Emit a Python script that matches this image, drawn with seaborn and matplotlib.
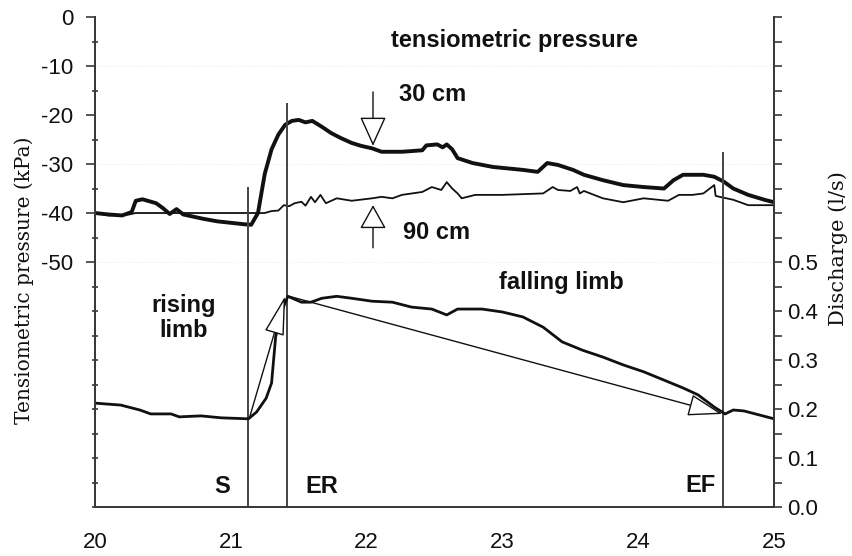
import numpy as np
import matplotlib
matplotlib.use("Agg")
import matplotlib.pyplot as plt
import seaborn as sns

# ---- data ----
t30 = [20.0, 20.1, 20.2, 20.27, 20.3, 20.35, 20.4, 20.45, 20.5, 20.55, 20.6, 20.65, 20.7, 20.8, 20.9,
       21.0, 21.1, 21.15, 21.2, 21.25, 21.3, 21.35, 21.4, 21.45, 21.5, 21.55, 21.6, 21.67, 21.74, 21.81,
       21.89, 21.96, 22.04, 22.11, 22.26, 22.41, 22.44, 22.52, 22.56, 22.59, 22.63, 22.67, 22.78, 22.93,
       23.15, 23.26, 23.33, 23.41, 23.52, 23.6, 23.74, 23.89, 24.04, 24.19, 24.26, 24.33, 24.48, 24.56,
       24.63, 24.7, 24.81, 24.93, 25.0]
p30 = [-40.0, -40.3, -40.5, -39.8, -37.5, -37.2, -37.6, -38.0, -39.0, -40.2, -39.2, -40.3, -40.6, -41.2,
       -41.7, -42.0, -42.3, -42.4, -40.0, -32.0, -27.0, -24.0, -22.0, -21.2, -21.0, -21.5, -21.2, -22.4,
       -23.7, -24.7, -25.7, -26.3, -26.8, -27.5, -27.5, -27.2, -26.2, -26.0, -26.6, -26.0, -27.0, -28.8,
       -29.8, -30.6, -31.2, -31.6, -29.8, -30.2, -31.2, -32.2, -33.3, -34.3, -34.7, -35.0, -33.3, -32.2,
       -32.2, -32.6, -33.6, -35.0, -36.3, -37.3, -37.8]

t90 = [20.0, 20.1, 20.25, 20.3, 21.25, 21.3, 21.35, 21.39, 21.43, 21.47, 21.52, 21.55, 21.59, 21.62, 21.66,
       21.7, 21.78, 21.89, 22.04, 22.11, 22.19, 22.26, 22.41, 22.48, 22.55, 22.59, 22.63, 22.67, 22.7, 22.8,
       23.0, 23.3, 23.37, 23.41, 23.5, 23.55, 23.57, 23.6, 23.74, 23.89, 24.04, 24.22, 24.3, 24.4, 24.48,
       24.56, 24.57, 24.6, 24.7, 24.81, 25.0]
p90 = [-40.0, -40.5, -40.3, -40.0, -40.0, -39.6, -39.5, -38.4, -38.6, -38.0, -37.7, -38.5, -36.7, -37.8,
       -36.3, -38.0, -37.0, -37.5, -37.0, -36.7, -37.0, -36.3, -35.7, -34.7, -35.3, -33.7, -35.0, -36.0,
       -37.0, -36.3, -36.3, -36.0, -34.7, -35.3, -35.5, -34.7, -36.0, -35.5, -37.0, -37.8, -37.0, -37.5,
       -36.3, -36.3, -36.0, -34.3, -36.5, -36.7, -37.3, -38.4, -38.4]

tq = [20.0, 20.19, 20.33, 20.41, 20.56, 20.62, 20.78, 20.93, 21.13, 21.19, 21.26, 21.3, 21.33, 21.37,
      21.42, 21.52, 21.59, 21.67, 21.78, 21.89, 22.04, 22.19, 22.33, 22.48, 22.59, 22.67, 22.85, 23.0,
      23.15, 23.3, 23.44, 23.59, 23.74, 23.89, 24.04, 24.19, 24.33, 24.44, 24.56, 24.64, 24.7, 24.78,
      24.89, 25.0]
q = [0.212, 0.208, 0.198, 0.19, 0.19, 0.184, 0.186, 0.182, 0.18, 0.194, 0.222, 0.253, 0.347, 0.396,
     0.43, 0.418, 0.418, 0.426, 0.43, 0.426, 0.42, 0.418, 0.408, 0.404, 0.392, 0.404, 0.404, 0.398,
     0.388, 0.367, 0.337, 0.32, 0.306, 0.29, 0.276, 0.259, 0.243, 0.229, 0.204, 0.19, 0.198, 0.196,
     0.188, 0.18]

event_t = [21.127, 21.414, 24.624]
event_top = [-34.7, -17.5, -27.5]
event_labels = ["S", "ER", "EF"]

x_ticks = [20, 21, 22, 23, 24, 25]
left_labels = [0, -10, -20, -30, -40, -50]
right_labels = [0.0, 0.1, 0.2, 0.3, 0.4, 0.5]

# ---- style ----
sns.set_theme(style="white")
plt.rcParams["font.family"] = ["Liberation Sans", "DejaVu Sans"]

fig = plt.figure(figsize=(8.53, 5.56), dpi=100)
ax = fig.add_axes([0.1114, 0.0881, 0.796, 0.8813])
ax2 = ax.twinx()

ink = "#111111"
axcol = "#3a3a3a"
FS = 17

sns.lineplot(x=t30, y=p30, ax=ax, color=ink, lw=2.8, estimator=None, sort=False)
sns.lineplot(x=t90, y=p90, ax=ax, color=ink, lw=1.3, estimator=None, sort=False)
sns.lineplot(x=tq, y=q, ax=ax2, color=ink, lw=2.0, estimator=None, sort=False)

ax.set_xlim(20, 25)
ax.set_ylim(-100, 0)
ax2.set_ylim(0, 1.0)

# faint grid
for yv in [-10, -30, -50]:
    ax.axhline(yv, color="#ececec", lw=0.8, ls=":", zorder=0)

# event lines
ax.vlines(event_t, -100, event_top, color="#444444", lw=1.4)
ax.text(20.935, -95.9, event_labels[0], ha="center", va="center", fontsize=FS, fontweight="bold", color=ink)
ax.text(21.546, -95.9, event_labels[1], ha="left", va="center", fontsize=FS, fontweight="bold", color=ink)
ax.text(24.573, -95.6, event_labels[2], ha="right", va="center", fontsize=FS, fontweight="bold", color=ink)

# texts
ax.text(23.09, -4.7, "tensiometric pressure", ha="center", va="center", fontsize=FS, fontweight="bold", color=ink)
ax.text(22.24, -15.9, "30 cm", ha="left", va="center", fontsize=FS, fontweight="bold", color=ink)
ax.text(22.27, -43.9, "90 cm", ha="left", va="center", fontsize=FS, fontweight="bold", color=ink)
ax.text(23.89, -54.1, "falling limb", ha="right", va="center", fontsize=FS, fontweight="bold", color=ink)
ax.text(20.655, -61.5, "rising\nlimb", ha="center", va="center", fontsize=FS, fontweight="bold",
        color=ink, linespacing=1.1)

# arrows
def hollow(axx, xy_from, xy_to, hl, hw):
    axx.annotate("", xy=xy_to, xytext=xy_from,
                 arrowprops=dict(arrowstyle=f"-|>,head_length={hl},head_width={hw}",
                                 fc="white", ec=ink, lw=1.0, shrinkA=0, shrinkB=0,
                                 mutation_scale=20))

hollow(ax, (22.047, -15.3), (22.047, -26.3), 0.93, 0.42)
hollow(ax, (22.047, -47.1), (22.047, -38.4), 0.75, 0.42)
hollow(ax2, (21.135, 0.18), (21.40, 0.43), 1.25, 0.32)
hollow(ax2, (21.43, 0.43), (24.62, 0.19), 1.1, 0.35)

# axes styling
for a in (ax, ax2):
    a.spines["top"].set_visible(False)
    for s in ("left", "right", "bottom"):
        a.spines[s].set_color(axcol)
        a.spines[s].set_linewidth(1.4)

ax.set_xticks(x_ticks)
ax.set_xticks(np.arange(20.5, 25, 1.0), minor=True)
ax.tick_params(axis="x", which="major", direction="out", length=6, width=1.2, labelsize=16,
               colors=axcol, labelcolor=ink, pad=12)
ax.tick_params(axis="x", which="minor", direction="out", length=3, width=1.2, colors=axcol)

ax.set_yticks(left_labels)
ax.set_yticks([v for v in range(-100, 0, 5) if v < -50 or v % 10 != 0], minor=True)
ax.tick_params(axis="y", which="major", direction="out", length=6.5, width=1.2, labelsize=16,
               colors=axcol, labelcolor=ink, pad=9)
ax.tick_params(axis="y", which="minor", direction="inout", length=5, width=1.2, colors=axcol)
ax.set_yticklabels([str(v) for v in left_labels])

ax2.set_yticks(right_labels)
ax2.set_yticks([v / 100 for v in range(5, 101, 5) if v > 50 or v % 10 != 0], minor=True)
ax2.tick_params(axis="y", which="major", direction="out", length=5.5, width=1.2, labelsize=16,
                colors=axcol, labelcolor=ink, pad=4)
ax2.tick_params(axis="y", which="minor", direction="out", length=5.5, width=1.2, colors=axcol)
ax2.set_yticklabels([f"{v:.1f}" for v in right_labels])

ax.set_ylabel("Tensiometric pressure (kPa)", fontsize=14.5, family=["DejaVu Serif"], color=ink)
ax2.set_ylabel("Discharge (l/s)", fontsize=15, family=["DejaVu Serif"], color=ink)
ax.yaxis.set_label_coords(-0.090, 0.463)
ax2.yaxis.set_label_coords(1.080, 0.527)
ax.set_xlabel("")
ax2.set_xlabel("")
ax.grid(False)
ax2.grid(False)

fig.savefig("out.png", dpi=100)
